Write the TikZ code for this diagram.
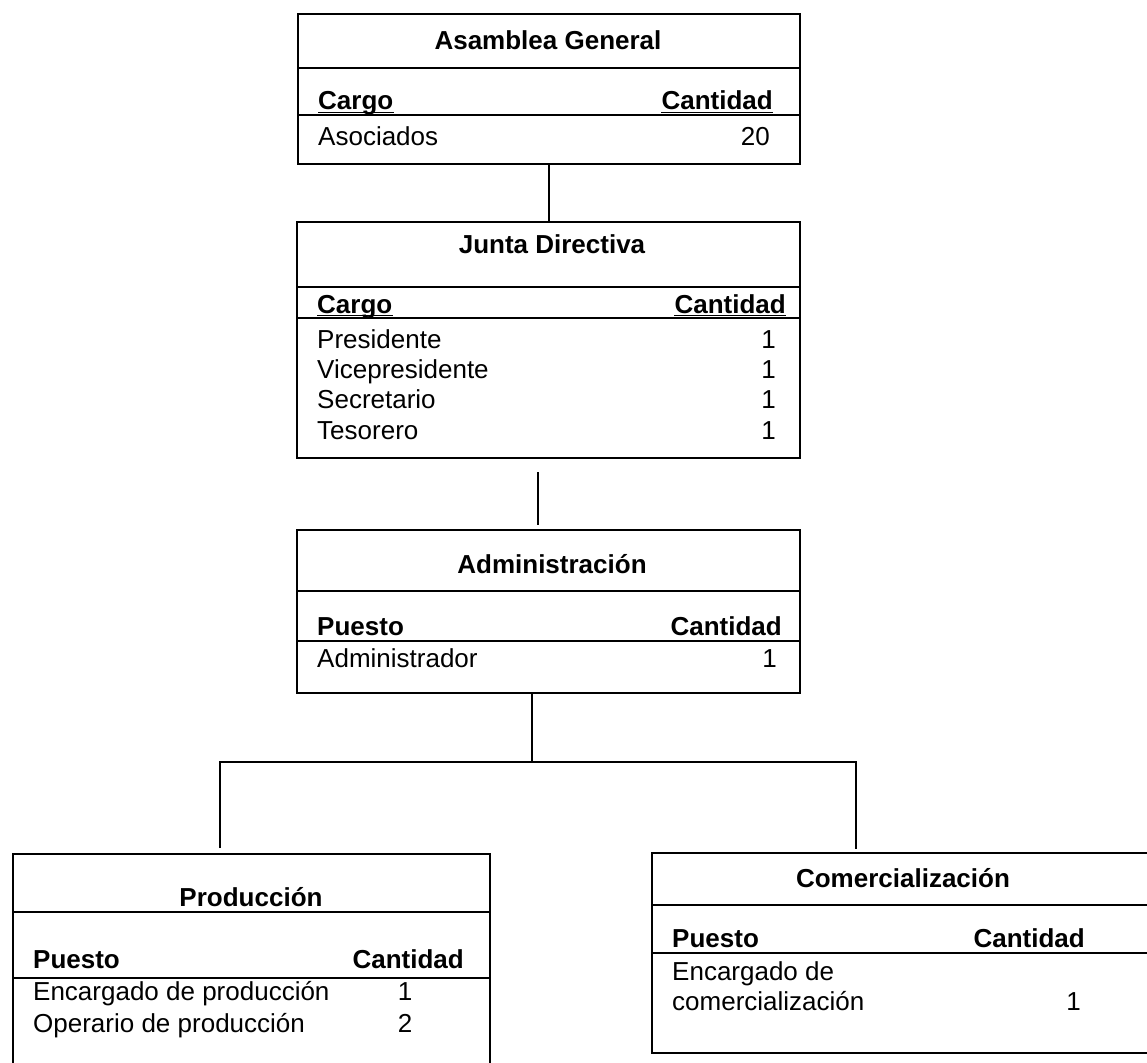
\documentclass[tikz,border=0pt]{standalone}
\usepackage{fontspec}
\setmainfont{Liberation Sans}
\usetikzlibrary{positioning}

\begin{document}
\begin{tikzpicture}[x=1pt, y=-1pt,
    every node/.style={inner sep=0pt, font=\fontsize{26}{30}\selectfont},
    caja/.style={draw, line width=1.6pt, anchor=north west},
    linea/.style={line width=1.6pt},
    tit/.style={anchor=base, font=\fontsize{26}{30}\selectfont\bfseries},
    cab/.style={font=\fontsize{26}{30}\selectfont\bfseries},
    izq/.style={anchor=base west},
    der/.style={anchor=base east}]

    \useasboundingbox (0,0) rectangle (1147,1062);
    \fill[white] (0,0) rectangle (1147,1062);
    \clip (0,0) rectangle (1147,1062);

    % cajas
    \node[caja, minimum width=502pt, minimum height=150pt] (ag) at (297,13) {};
    \node[caja, minimum width=503pt, minimum height=236pt] (jd) at (296,221) {};
    \node[caja, minimum width=503pt, minimum height=163pt] (adm) at (296,529) {};
    \node[caja, minimum width=477pt, minimum height=240pt] (prod) at (12,853) {};
    \node[caja, minimum width=504pt, minimum height=200pt] (com) at (651,852) {};

    \foreach \b/\y in {ag/68, ag/115, jd/287, jd/318, adm/591, adm/641,
                       prod/912, prod/978, com/905, com/953}
        \draw[linea] (\b.west |- 0,\y) -- (\b.east |- 0,\y);

    % Asamblea General
    \node[tit] (ag-t) at (548,50) {Asamblea General};
    \node[cab, izq] (ag-cargo) at (318,110) {Cargo};
    \node[cab, der] (ag-cant) at (773,110) {Cantidad};
    \node[izq] (ag-r1) at (318,145) {Asociados};
    \node[der] (ag-n1) at (770,145) {20};

    % Junta Directiva
    \node[tit] (jd-t) at (552,253) {Junta Directiva};
    \node[cab, izq] (jd-cargo) at (317,313) {Cargo};
    \node[cab, der] (jd-cant) at (786,313) {Cantidad};
    \node[izq] (jd-r1) at (317,348) {Presidente};
    \node[izq] (jd-r2) at (317,378) {Vicepresidente};
    \node[izq] (jd-r3) at (317,408) {Secretario};
    \node[izq] (jd-r4) at (317,439) {Tesorero};
    \foreach \i/\y in {1/348, 2/378, 3/408, 4/439}
        \node[der] (jd-n\i) at (776,\y) {1};

    \foreach \n in {ag-cargo, ag-cant, jd-cargo, jd-cant}
        \draw[line width=1.3pt] ([yshift=-2.5pt]\n.base west) -- ([yshift=-2.5pt]\n.base east);

    % Administracion
    \node[tit] (adm-t) at (552,573) {Administración};
    \node[cab, izq] (adm-puesto) at (317,635) {Puesto};
    \node[cab, der] (adm-cant) at (782,635) {Cantidad};
    \node[izq] (adm-r1) at (317,667) {Administrador};
    \node[der] (adm-n1) at (777,667) {1};

    % Produccion
    \node[tit] (prod-t) at (251,906) {Producción};
    \node[cab, izq] (prod-puesto) at (33,968) {Puesto};
    \node[cab, der] (prod-cant) at (464,968) {Cantidad};
    \node[izq] (prod-r1) at (33,1000) {Encargado de producción};
    \node[izq] (prod-r2) at (33,1032) {Operario de producción};
    \node[anchor=base] (prod-n1) at (405,1000) {1};
    \node[anchor=base] (prod-n2) at (405,1032) {2};

    % Comercializacion
    \node[tit] (com-t) at (903,887) {Comercialización};
    \node[cab, izq] (com-puesto) at (672,947) {Puesto};
    \node[cab, der] (com-cant) at (1085,947) {Cantidad};
    \node[izq] (com-r1) at (672,980) {Encargado de};
    \node[izq] (com-r1b) at (672,1010) {comercialización};
    \node[der] (com-n1) at (1081,1010) {1};

    % conectores
    \coordinate (j1) at (538,472);
    \coordinate (j2) at (538,525);
    \coordinate (bus) at (532,762);
    \coordinate (p-in) at (220,848);
    \coordinate (c-in) at (856,849);

    \draw[linea] (ag.south) -- (ag.south |- jd.north);
    \draw[linea] (j1) -- (j2);
    \draw[linea] (bus |- adm.south) -- (bus);
    \draw[linea] (p-in) |- (c-in |- bus) -- (c-in);
\end{tikzpicture}
\end{document}
